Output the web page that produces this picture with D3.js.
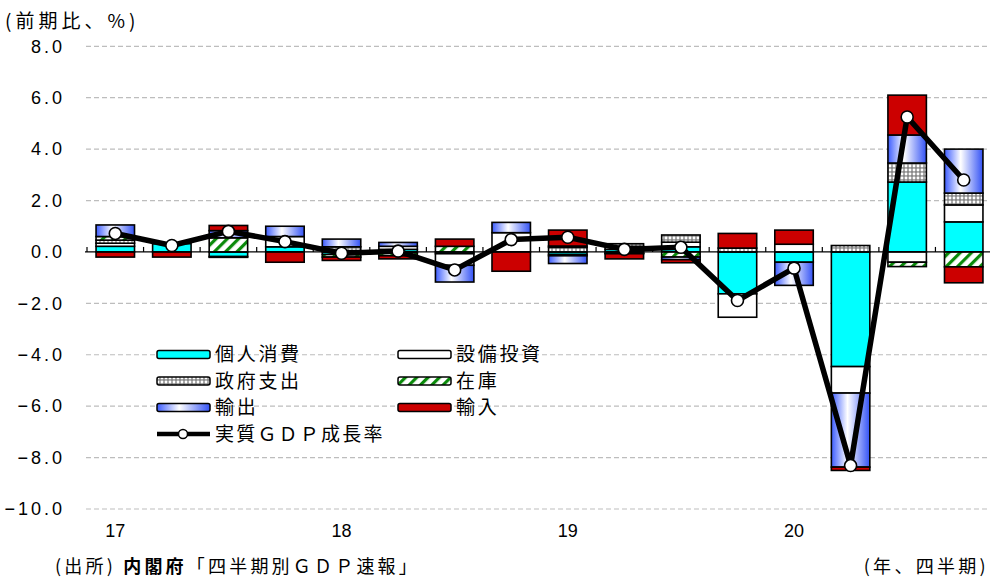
<!DOCTYPE html>
<html>
<head>
<meta charset="utf-8">
<script src="https://cdn.jsdelivr.net/npm/d3@7"></script>
<style>
  body { margin: 0; background: #fff; }
  text { font-family: "Noto Sans CJK JP", sans-serif; fill: #000; }
</style>
</head>
<body>
<script>
// quarters 2017Q1 .. 2020Q4
const quarters = ["17Q1","17Q2","17Q3","17Q4","18Q1","18Q2","18Q3","18Q4",
                  "19Q1","19Q2","19Q3","19Q4","20Q1","20Q2","20Q3","20Q4"]
const yearLabels = ["17","","","","18","","","","19","","","","20","","",""]
const seriesNames = ["個人消費","設備投資","政府支出","在庫","輸出","輸入"]

// contributions (percentage points)
const consumption = [0.22, 0.32, -0.18, 0.20, -0.10, 0.10, -0.07, 0.00, -0.10, 0.10, 0.20, -1.63, -0.40, -4.46, 2.72, 1.17]
const investment  = [0.12, 0.00, 0.00, 0.40, 0.05, 0.12, -0.45, 0.75, -0.05, 0.12, 0.18, -0.91, 0.30, -1.03, -0.40, 0.66]
const government  = [0.12, 0.00, -0.03, 0.00, 0.15, -0.03, 0.00, 0.00, 0.18, 0.10, 0.28, 0.15, 0.00, 0.25, 0.74, 0.46]
const inventory   = [0.14, 0.00, 0.55, 0.00, -0.10, -0.12, 0.22, 0.00, 0.05, -0.05, -0.20, 0.00, 0.00, 0.00, -0.17, -0.58]
const exportsV    = [0.45, 0.00, 0.28, 0.40, 0.30, 0.15, -0.65, 0.40, -0.30, -0.02, -0.10, 0.00, -0.90, -2.88, 1.09, 1.71]
const importsV    = [-0.20, -0.20, 0.20, -0.40, -0.13, -0.12, 0.28, -0.75, 0.62, -0.20, -0.12, 0.57, 0.55, -0.13, 1.55, -0.62]
const gdp         = [0.72, 0.25, 0.80, 0.40, -0.05, 0.03, -0.70, 0.48, 0.57, 0.10, 0.18, -1.89, -0.63, -8.31, 5.25, 2.80]

const yTicks = [8, 6, 4, 2, 0, -2, -4, -6, -8, -10]

const width = 990
const height = 580

const svg = d3.select("body").append("svg")
    .attr("width", width)
    .attr("height", height)

svg.append("rect").attr("width", width).attr("height", height).attr("fill", "#fff")

const defs = svg.append("defs")

const grad = defs.append("linearGradient").attr("id", "blueGrad")
    .attr("x1", 0).attr("x2", 1).attr("y1", 0).attr("y2", 0)
grad.append("stop").attr("offset", "0%").attr("stop-color", "#3c5cff")
grad.append("stop").attr("offset", "42%").attr("stop-color", "#ffffff")
grad.append("stop").attr("offset", "100%").attr("stop-color", "#3352f5")

const dots = defs.append("pattern").attr("id", "dots")
    .attr("patternUnits", "userSpaceOnUse").attr("width", 4).attr("height", 4)
dots.append("rect").attr("width", 4).attr("height", 4).attr("fill", "#8a8a8a")
dots.append("circle").attr("cx", 2).attr("cy", 2).attr("r", 1.45).attr("fill", "#fff")

const hatch = defs.append("pattern").attr("id", "hatch")
    .attr("patternUnits", "userSpaceOnUse").attr("width", 8).attr("height", 8)
    .attr("patternTransform", "rotate(45)")
hatch.append("rect").attr("width", 8).attr("height", 8).attr("fill", "#fff")
hatch.append("rect").attr("width", 3.2).attr("height", 8).attr("fill", "#0a8a0a")

const fills = {
    "個人消費": "#00ffff",
    "設備投資": "#ffffff",
    "政府支出": "url(#dots)",
    "在庫": "url(#hatch)",
    "輸出": "url(#blueGrad)",
    "輸入": "#cc0000"
}

const x = d3.scaleBand().domain(quarters).range([87, 992]).paddingInner(0.32).paddingOuter(0.16)
const y = d3.scaleLinear().domain([-10, 8]).range([509, 46.3])

// grid
svg.append("g").selectAll("line")
    .data(yTicks.filter(d => d !== 0))
    .enter().append("line")
    .attr("x1", 86).attr("x2", 990)
    .attr("y1", d => y(d)).attr("y2", d => y(d))
    .attr("stroke", "#bdbdbd").attr("stroke-width", 1.2)
    .attr("stroke-dasharray", "5,3")

// y labels
svg.append("g").selectAll("text")
    .data(yTicks)
    .enter().append("text")
    .attr("x", 65).attr("y", d => y(d))
    .attr("dy", "0.35em")
    .attr("text-anchor", "end")
    .style("font-family", "'Liberation Sans', sans-serif")
    .style("font-size", "18px")
    .style("letter-spacing", "3px")
    .text(d => d3.format(".1f")(d))

// bars
const rows = quarters.map((q, i) => ({
    q,
    "個人消費": consumption[i],
    "設備投資": investment[i],
    "政府支出": government[i],
    "在庫": inventory[i],
    "輸出": exportsV[i],
    "輸入": importsV[i]
}))

const stacked = d3.stack().keys(seriesNames).offset(d3.stackOffsetDiverging)(rows)

svg.append("g").selectAll("g")
    .data(stacked)
    .enter().append("g")
    .attr("fill", d => fills[d.key])
    .selectAll("rect")
    .data(d => d.filter(s => s[1] - s[0] !== 0))
    .enter().append("rect")
    .attr("x", d => x(d.data.q))
    .attr("width", x.bandwidth())
    .attr("y", d => y(d[1]))
    .attr("height", d => y(d[0]) - y(d[1]))
    .attr("stroke", "#000")
    .attr("stroke-width", 1.6)

// x axis line + ticks
const y0 = y(0)
svg.append("line")
    .attr("x1", 85).attr("x2", 990)
    .attr("y1", y0).attr("y2", y0)
    .attr("stroke", "#000").attr("stroke-width", 1.3)

svg.append("g").selectAll("line")
    .data(d3.range(quarters.length + 1))
    .enter().append("line")
    .attr("x1", i => 87 + i * x.step()).attr("x2", i => 87 + i * x.step())
    .attr("y1", y0).attr("y2", y0 - 5)
    .attr("stroke", "#000").attr("stroke-width", 1.2)

svg.append("g").selectAll("text")
    .data(quarters.filter((q, i) => yearLabels[i] !== ""))
    .enter().append("text")
    .attr("x", q => x(q) + x.bandwidth() / 2)
    .attr("y", 531)
    .attr("dy", "0.35em")
    .attr("text-anchor", "middle")
    .style("font-family", "'Liberation Sans', sans-serif")
    .style("font-size", "18px")
    .text(q => yearLabels[quarters.indexOf(q)])

// GDP line
const line = d3.line()
    .x((d, i) => x(quarters[i]) + x.bandwidth() / 2)
    .y(d => y(d))

svg.append("path")
    .datum(gdp)
    .attr("d", line)
    .attr("fill", "none")
    .attr("stroke", "#000")
    .attr("stroke-width", 5.5)
    .attr("stroke-linejoin", "round")

svg.append("g").selectAll("circle")
    .data(gdp)
    .enter().append("circle")
    .attr("cx", (d, i) => x(quarters[i]) + x.bandwidth() / 2)
    .attr("cy", d => y(d))
    .attr("r", 6)
    .attr("fill", "#fff")
    .attr("stroke", "#000")
    .attr("stroke-width", 1.6)

// legend
const legendItems = [
    { name: "個人消費", col: 0, row: 0 },
    { name: "設備投資", col: 1, row: 0 },
    { name: "政府支出", col: 0, row: 1 },
    { name: "在庫", col: 1, row: 1 },
    { name: "輸出", col: 0, row: 2 },
    { name: "輸入", col: 1, row: 2 }
]
const legX = [157, 398]
const legY = r => 354.5 + r * 26.5

const leg = svg.append("g")
leg.selectAll("rect")
    .data(legendItems)
    .enter().append("rect")
    .attr("x", d => legX[d.col]).attr("width", 53)
    .attr("y", d => legY(d.row) - 4).attr("height", 8)
    .attr("rx", 2)
    .attr("fill", d => fills[d.name])
    .attr("stroke", "#000").attr("stroke-width", 1.5)

leg.selectAll("text")
    .data(legendItems)
    .enter().append("text")
    .attr("x", d => legX[d.col] + 58)
    .attr("y", d => legY(d.row))
    .attr("dy", "0.35em")
    .style("font-size", "19px")
    .style("letter-spacing", "2.7px")
    .text(d => d.name)

leg.append("line")
    .attr("x1", 157).attr("x2", 210)
    .attr("y1", legY(3)).attr("y2", legY(3))
    .attr("stroke", "#000").attr("stroke-width", 4.5)
leg.append("circle")
    .attr("cx", 183).attr("cy", legY(3)).attr("r", 4.5)
    .attr("fill", "#fff").attr("stroke", "#000").attr("stroke-width", 1.5)
leg.append("text")
    .attr("x", 215).attr("y", legY(3))
    .attr("dy", "0.35em")
    .style("font-size", "19px")
    .style("letter-spacing", "2.2px")
    .text("実質ＧＤＰ成長率")

// titles / notes
svg.append("text")
    .attr("x", 5).attr("y", 21).attr("dy", "0.35em")
    .style("font-size", "19px")
    .style("letter-spacing", "4px")
    .text("(前期比、%)")

const src = svg.append("text")
    .attr("x", 55).attr("y", 567).attr("dy", "0.35em")
    .style("font-size", "18px")
    .style("letter-spacing", "3.2px")
src.append("tspan").text("(出所) ")
src.append("tspan").style("font-weight", "bold").text("内閣府")
src.append("tspan").text("「四半期別ＧＤＰ速報」")

svg.append("text")
    .attr("x", 989).attr("y", 567).attr("dy", "0.35em")
    .attr("text-anchor", "end")
    .style("font-size", "18px")
    .style("letter-spacing", "3.3px")
    .text("(年、四半期)")
</script>
</body>
</html>
